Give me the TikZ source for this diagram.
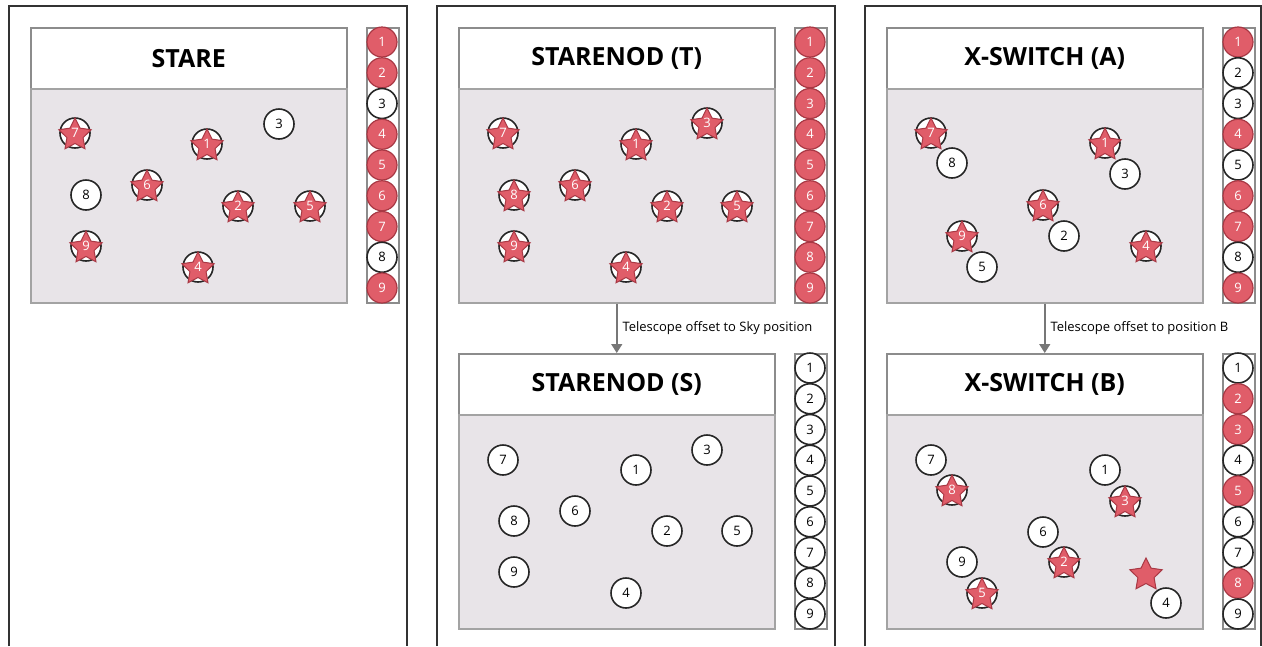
\documentclass[tikz,border=0pt]{standalone}
\usepackage{fontspec}
\setmainfont{Open Sans}
\usetikzlibrary{shapes.geometric,arrows.meta}
\definecolor{redf}{HTML}{E05D69}
\definecolor{redd}{HTML}{A83844}
\definecolor{fieldg}{HTML}{E8E4E8}
\definecolor{boxc}{HTML}{8C8C8C}
\definecolor{panelc}{HTML}{333333}
\definecolor{arrc}{HTML}{777777}
\tikzset{
  panel/.style={draw=panelc, line width=1.8pt},
  titlebox/.style={draw=boxc, line width=1.5pt, fill=white, minimum width=316pt, minimum height=61pt, inner sep=0pt, anchor=north west, font=\fontsize{25}{25}\selectfont\bfseries},
  field/.style={draw=boxc!80, line width=1.5pt, fill=fieldg, minimum width=316pt, minimum height=214pt, inner sep=0pt, anchor=north west},
  colbox/.style={draw=boxc, line width=1.5pt, fill=white, minimum width=32pt, minimum height=275pt, inner sep=0pt, anchor=north west},
  plainc/.style={circle, draw=black!85, line width=1.6pt, fill=white, minimum size=30pt, inner sep=0pt, font=\fontsize{13}{13}\selectfont},
  ringc/.style={circle, draw=black!85, line width=1.6pt, fill=white, minimum size=30pt, inner sep=0pt},
  redc/.style={circle, draw=redd, line width=1.2pt, fill=redf, text=white, minimum size=30pt, inner sep=0pt, font=\fontsize{13}{13}\selectfont},
  starc/.style={star, star points=5, star point ratio=2.0, minimum size=34pt, inner sep=0pt, fill=redf, draw=redd, line width=1pt, yshift=-2pt},
  numw/.style={text=white, inner sep=0pt, font=\fontsize{13}{13}\selectfont},
  flow/.style={draw=arrc, line width=1.5pt, -{Triangle[length=9pt,width=11pt]}},
  flowlab/.style={font=\fontsize{13}{13}\selectfont, inner sep=0pt, anchor=west, xshift=5pt}
}
\newcommand{\starobj}[3]{\node[ringc] (#1) at (#2) {}; \node[starc] (#1s) at (#1) {}; \node[numw] (#1n) at (#1) {#3};}
\newcommand{\plainobj}[3]{\node[plainc] (#1) at (#2) {#3};}
\begin{document}
\begin{tikzpicture}[x=1pt,y=-1pt]
\useasboundingbox (0,0) rectangle (1262,646);
% outer panels
\draw[panel] (9,646) -- (9,6) -- (407,6) -- (407,646);
\draw[panel] (437,646) -- (437,6) -- (835,6) -- (835,646);
\draw[panel] (865,646) -- (865,6) -- (1261,6) -- (1261,646);

% ---------- Panel 1 : STARE ----------
\node[titlebox] (t1) at (30,27) {STARE};
\node[field] (f1) at (30,88) {};
\node[colbox] (k1) at (366,27) {};
\foreach \i/\s in {1/redc,2/redc,3/plainc,4/redc,5/redc,6/redc,7/redc,8/plainc,9/redc}
  \node[\s] (k1c\i) at (382,{42+30.75*(\i-1)}) {\i};
\starobj{a7}{75,133}{7}
\starobj{a1}{207,144}{1}
\plainobj{a3}{279,124}{3}
\plainobj{a8}{86,195}{8}
\starobj{a6}{147,185}{6}
\starobj{a2}{238,206}{2}
\starobj{a5}{310,206}{5}
\starobj{a9}{86,246}{9}
\starobj{a4}{198,267}{4}

% ---------- Panel 2 : STARENOD ----------
\node[titlebox] (t2) at (458,27) {STARENOD (T)};
\node[field] (f2) at (458,88) {};
\node[colbox] (k2) at (794,27) {};
\foreach \i in {1,...,9}
  \node[redc] (k2c\i) at (810,{42+30.75*(\i-1)}) {\i};
\starobj{b7}{503,133}{7}
\starobj{b1}{636,144}{1}
\starobj{b3}{707,123}{3}
\starobj{b8}{514,195}{8}
\starobj{b6}{575,185}{6}
\starobj{b2}{667,206}{2}
\starobj{b5}{737,206}{5}
\starobj{b9}{514,246}{9}
\starobj{b4}{626,267}{4}

\node[titlebox] (t2b) at (458,353) {STARENOD (S)};
\node[field] (f2b) at (458,414) {};
\node[colbox] (k2b) at (794,353) {};
\foreach \i in {1,...,9}
  \node[plainc] (k2bc\i) at (810,{368+30.75*(\i-1)}) {\i};
\plainobj{c7}{503,460}{7}
\plainobj{c1}{636,470}{1}
\plainobj{c3}{707,450}{3}
\plainobj{c8}{514,521}{8}
\plainobj{c6}{575,511}{6}
\plainobj{c2}{667,531}{2}
\plainobj{c5}{737,531}{5}
\plainobj{c9}{514,572}{9}
\plainobj{c4}{626,593}{4}

\draw[flow] (f2.south) -- (t2b.north) node[midway, flowlab] {Telescope offset to Sky position};

% ---------- Panel 3 : X-SWITCH ----------
\node[titlebox] (t3) at (886,27) {X-SWITCH (A)};
\node[field] (f3) at (886,88) {};
\node[colbox] (k3) at (1222,27) {};
\foreach \i/\s in {1/redc,2/plainc,3/plainc,4/redc,5/plainc,6/redc,7/redc,8/plainc,9/redc}
  \node[\s] (k3c\i) at (1238,{42+30.75*(\i-1)}) {\i};
\starobj{d7}{931,133}{7}
\plainobj{d8}{952,163}{8}
\starobj{d1}{1105,143}{1}
\plainobj{d3}{1125,174}{3}
\starobj{d6}{1043,205}{6}
\plainobj{d2}{1064,236}{2}
\starobj{d9}{962,236}{9}
\plainobj{d5}{982,267}{5}
\starobj{d4}{1146,246}{4}

\node[titlebox] (t3b) at (886,353) {X-SWITCH (B)};
\node[field] (f3b) at (886,414) {};
\node[colbox] (k3b) at (1222,353) {};
\foreach \i/\s in {1/plainc,2/redc,3/redc,4/plainc,5/redc,6/plainc,7/plainc,8/redc,9/plainc}
  \node[\s] (k3bc\i) at (1238,{368+30.75*(\i-1)}) {\i};
\plainobj{e7}{931,460}{7}
\starobj{e8}{952,490}{8}
\plainobj{e1}{1105,470}{1}
\starobj{e3}{1125,501}{3}
\plainobj{e6}{1043,532}{6}
\starobj{e2}{1064,562}{2}
\plainobj{e9}{962,562}{9}
\starobj{e5}{982,593}{5}
\node[starc] (e4s) at (1146,573) {};
\plainobj{e4}{1166,603}{4}

\draw[flow] (f3.south) -- (t3b.north) node[midway, flowlab] {Telescope offset to position B};
\end{tikzpicture}
\end{document}
